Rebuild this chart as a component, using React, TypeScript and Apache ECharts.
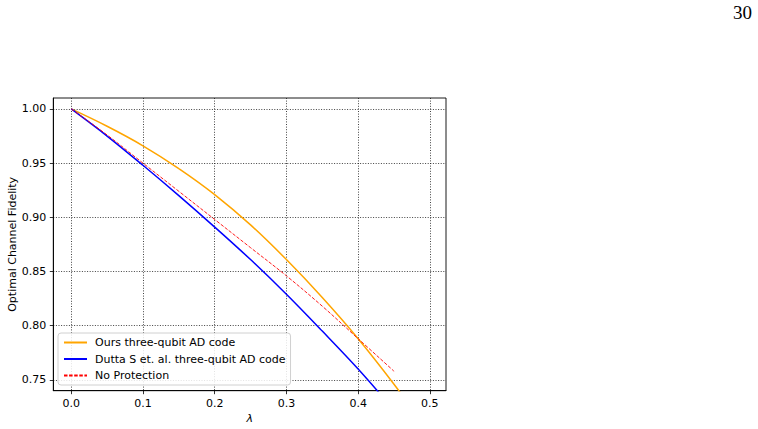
import React, { useEffect, useRef } from "react";
import * as echarts from "echarts";

const lambdaValues = [0, 0.05, 0.1, 0.15, 0.2, 0.25, 0.3, 0.35, 0.4, 0.45, 0.5];
const oursFidelity = [1.0, 0.984, 0.966, 0.945, 0.921, 0.893, 0.861, 0.826, 0.788, 0.746, 0.701];
const duttaFidelity = [1.0, 0.975, 0.948, 0.92, 0.891, 0.861, 0.829, 0.795, 0.76, 0.722, 0.682];
const noProtLambda = [0, 0.05, 0.1, 0.15, 0.2, 0.25, 0.3, 0.35, 0.4, 0.45];
const noProtFidelity = [1.0, 0.976, 0.95, 0.924, 0.898, 0.872, 0.846, 0.818, 0.788, 0.758];
const xTicks = [0, 0.1, 0.2, 0.3, 0.4, 0.5];
const yTicks = [0.75, 0.8, 0.85, 0.9, 0.95, 1.0];
const seriesNames = [
  "Ours three-qubit AD code",
  "Dutta S et. al. three-qubit AD code",
  "No Protection",
];

const FONT = "DejaVu Sans";

export default function App() {
  const ref = useRef<HTMLDivElement>(null);
  useEffect(() => {
    if (!ref.current) return;
    const chart = echarts.init(ref.current, null, { renderer: "svg" });
    const pairs = (xs: number[], ys: number[]) => xs.map((x, i) => [x, ys[i]]);
    const splitLine = {
      show: true,
      lineStyle: { color: "#111", width: 0.8, type: [1, 1.6] as any },
    };
    chart.setOption({
      animation: false,
      backgroundColor: "#fff",
      grid: {
        left: 53.3,
        right: 312,
        top: 98,
        bottom: 38.3,
        containLabel: false,
        outerBoundsMode: "none",
        show: true,
        borderColor: "#000",
        borderWidth: 0.9,
        backgroundColor: "transparent",
      },
      legend: {
        orient: "vertical",
        left: 58,
        top: 333,
        padding: [4, 5, 4, 5],
        itemWidth: 23,
        itemHeight: 11,
        itemGap: 5.5,
        backgroundColor: "rgba(255,255,255,0.85)",
        borderColor: "#d0d0d0",
        borderWidth: 1,
        borderRadius: 3,
        itemStyle: { color: "transparent", borderWidth: 0, opacity: 0 },
        textStyle: { fontFamily: FONT, fontSize: 11, color: "#000", padding: [0, 0, 0, 3] },
        data: seriesNames,
      },
      xAxis: {
        type: "value",
        min: -0.025,
        max: 0.5225,
        name: "λ",
        nameLocation: "middle",
        nameGap: 22,
        nameMoveOverlap: false,
        nameTextStyle: { fontFamily: FONT, fontSize: 11, fontStyle: "italic", color: "#000" },
        axisLine: { show: true, onZero: false, lineStyle: { color: "#000", width: 0.9 } },
        axisTick: {
          show: true,
          length: 3.5,
          customValues: xTicks,
          lineStyle: { color: "#000", width: 0.8 },
        },
        axisLabel: {
          margin: 7,
          customValues: xTicks,
          fontFamily: FONT,
          fontSize: 11,
          color: "#000",
          formatter: (v: number) => v.toFixed(1),
        },
        splitLine,
      },
      yAxis: {
        type: "value",
        min: 0.74,
        max: 1.0101,
        name: "Optimal Channel Fidelity",
        nameLocation: "middle",
        nameGap: 35,
        nameMoveOverlap: false,
        nameTextStyle: { fontFamily: FONT, fontSize: 11, color: "#000" },
        axisLine: { show: true, onZero: false, lineStyle: { color: "#000", width: 0.9 } },
        axisTick: {
          show: true,
          length: 3.5,
          customValues: yTicks,
          lineStyle: { color: "#000", width: 0.8 },
        },
        axisLabel: {
          margin: 7,
          customValues: yTicks,
          fontFamily: FONT,
          fontSize: 11,
          color: "#000",
          formatter: (v: number) => v.toFixed(2),
        },
        splitLine,
      },
      series: [
        {
          name: seriesNames[0],
          type: "line",
          data: pairs(lambdaValues, oursFidelity),
          symbol: "none",
          showSymbol: false,
          smooth: 0.35,
          clip: true,
          color: "#FFA500",
          lineStyle: { color: "#FFA500", width: 1.5 },
          z: 3,
        },
        {
          name: seriesNames[1],
          type: "line",
          data: pairs(lambdaValues, duttaFidelity),
          symbol: "none",
          showSymbol: false,
          smooth: 0.35,
          clip: true,
          color: "#0000FF",
          lineStyle: { color: "#0000FF", width: 1.5 },
          z: 3,
        },
        {
          name: seriesNames[2],
          type: "line",
          data: pairs(noProtLambda, noProtFidelity),
          symbol: "none",
          showSymbol: false,
          smooth: 0.35,
          clip: true,
          color: "#FF0000",
          lineStyle: { color: "#FF0000", width: 0.9, type: [3.5, 1.6] },
          z: 4,
        },
      ],
      graphic: [
        {
          type: "text",
          right: 6,
          top: 3,
          style: {
            text: "30",
            fontFamily: "Liberation Serif",
            fontSize: 19,
            fill: "#000",
          },
        },
      ],
    });
    return () => chart.dispose();
  }, []);
  return (
    <div
      ref={ref}
      style={{ position: "fixed", left: 0, top: 0, width: 758, height: 429 }}
    />
  );
}
